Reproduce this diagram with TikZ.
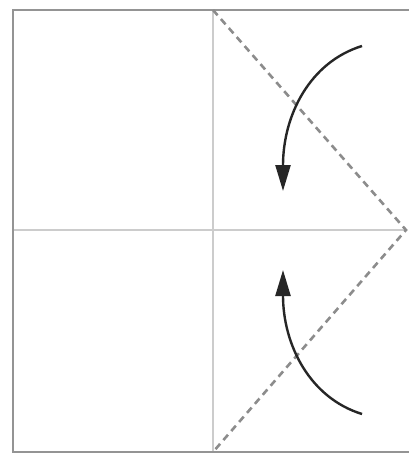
\documentclass[tikz,border=0pt]{standalone}
\usetikzlibrary{arrows.meta}
\begin{document}
\begin{tikzpicture}[x=1pt,y=-1pt,
  frame/.style={draw=black!42,line width=2.2pt},
  crease/.style={draw=black!20,line width=1.3pt},
  foldline/.style={draw=black!45,line width=2.6pt,dash pattern=on 7pt off 5pt},
  turn/.style={draw=black!85,line width=2.4pt,-{Triangle[length=26pt,width=15pt]}}]
\useasboundingbox[fill=white] (0,0) rectangle (408,456);
% corners
\coordinate (tl) at (13,10);
\coordinate (tr) at (410,10);
\coordinate (bl) at (13,452);
\coordinate (br) at (410,452);
\coordinate (vt) at (213,10);
\coordinate (vb) at (213,452);
\coordinate (hl) at (13,230);
\coordinate (hr) at (406,230);
\coordinate (apex) at (406,230);
\coordinate (a1s) at (362,46);
\coordinate (a1e) at (283,191);
\coordinate (a2s) at (362,414);
\coordinate (a2e) at (283,270);
% creases
\draw[crease] (vt) -- (vb);
\draw[crease] (hl) -- (hr);
% frame
\draw[frame] (br) -- (bl) -- (tl) -- (tr);
% fold lines
\draw[foldline] (vt) -- (apex) -- (vb);
% arrows
\draw[turn] (a1s) .. controls (310,62) and (283,115) .. (a1e);
\draw[turn] (a2s) .. controls (310,398) and (283,345) .. (a2e);
\end{tikzpicture}
\end{document}
